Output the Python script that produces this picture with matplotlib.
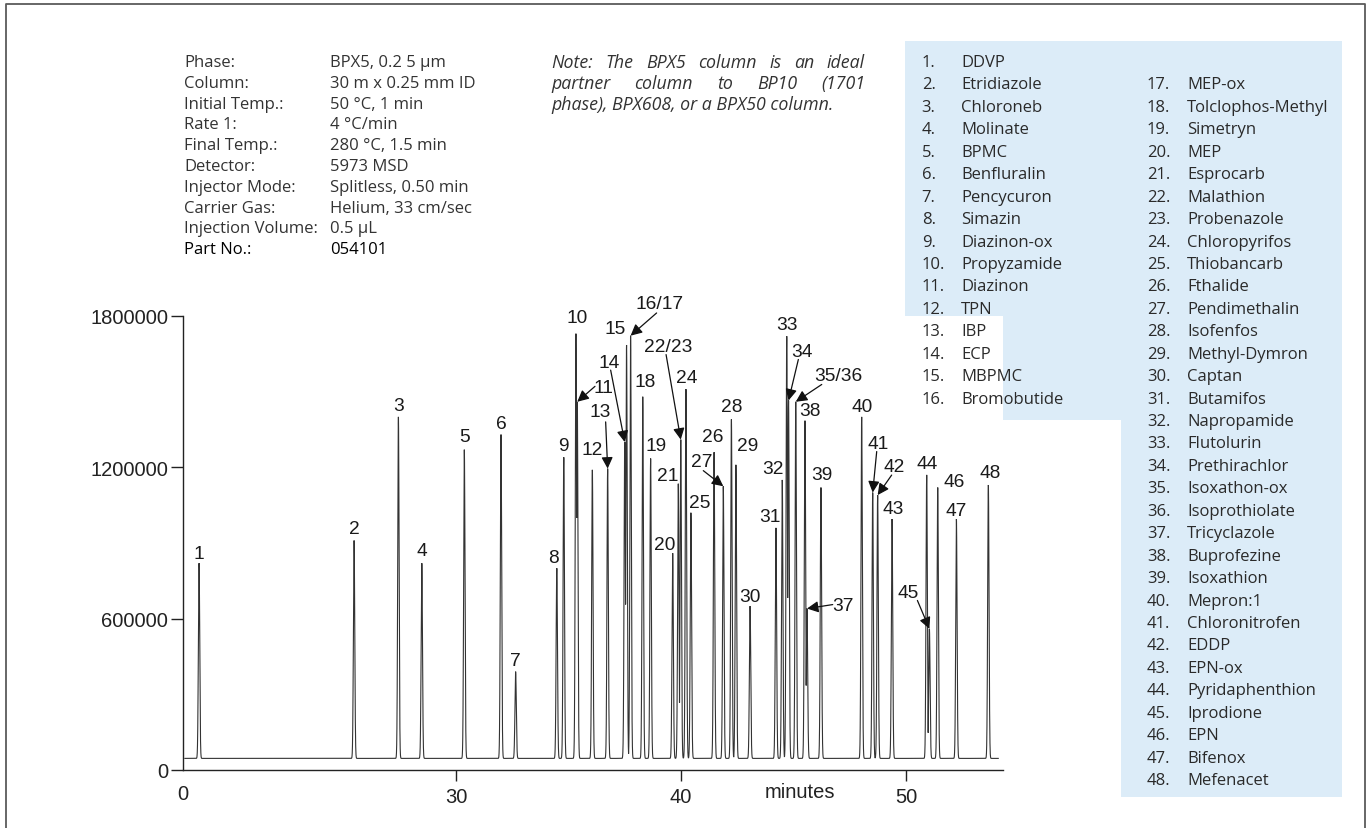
import numpy as np
import matplotlib
matplotlib.use("Agg")
import matplotlib.pyplot as plt
from matplotlib.lines import Line2D
from matplotlib.patches import Polygon

# ---------------------------------------------------------------- data
peak_labels = ["1", "2", "3", "4", "5", "6", "7", "8", "9", "10", "11", "12",
               "13", "14", "15", "16/17", "18", "19", "20", "21", "22/23",
               "24", "25", "26", "27", "28", "29", "30", "31", "32", "33",
               "34", "35/36", "37", "38", "39", "40", "41", "42", "43", "44",
               "45", "46", "47", "48"]
peak_times = [18.58, 25.47, 27.44, 28.48, 30.37, 32.00, 32.65, 34.48, 34.79,
              35.33, 35.39, 36.06, 36.74, 37.50, 37.58, 37.76, 38.30, 38.65,
              39.63, 39.88, 39.99, 40.22, 40.44, 41.47, 41.88, 42.24, 42.44,
              43.07, 44.22, 44.50, 44.70, 44.78, 45.10, 45.60, 45.51, 46.22,
              48.03, 48.52, 48.74, 49.38, 50.92, 51.04, 51.41, 52.24, 53.66]
peak_heights = [820000, 910000, 1400000, 820000, 1270000, 1330000, 390000,
                800000, 1240000, 1730000, 1460000, 1190000, 1195000, 1300000,
                1685000, 1722000, 1480000, 1235000, 860000, 1135000, 1310000,
                1510000, 1020000, 1260000, 1125000, 1390000, 1210000, 650000,
                960000, 1150000, 1720000, 1465000, 1460000, 640000, 1385000,
                1120000, 1400000, 1100000, 1090000, 995000, 1170000, 560000,
                1120000, 995000, 1130000]
baseline_level = 46000

x_tick_values = [30, 40, 50]
x_tick_labels = ["30", "40", "50"]
y_tick_values = [0, 600000, 1200000, 1800000]

compound_names = ["DDVP", "Etridiazole", "Chloroneb", "Molinate", "BPMC",
                  "Benfluralin", "Pencycuron", "Simazin", "Diazinon-ox",
                  "Propyzamide", "Diazinon", "TPN", "IBP", "ECP", "MBPMC",
                  "Bromobutide", "MEP-ox", "Tolclophos-Methyl", "Simetryn",
                  "MEP", "Esprocarb", "Malathion", "Probenazole",
                  "Chloropyrifos", "Thiobancarb", "Fthalide", "Pendimethalin",
                  "Isofenfos", "Methyl-Dymron", "Captan", "Butamifos",
                  "Napropamide", "Flutolurin", "Prethirachlor", "Isoxathon-ox",
                  "Isoprothiolate", "Tricyclazole", "Buprofezine", "Isoxathion",
                  "Mepron:1", "Chloronitrofen", "EDDP", "EPN-ox",
                  "Pyridaphenthion", "Iprodione", "EPN", "Bifenox", "Mefenacet"]

info_keys = ["Phase:", "Column:", "Initial Temp.:", "Rate 1:", "Final Temp.:",
             "Detector:", "Injector Mode:", "Carrier Gas:", "Injection Volume:",
             "Part No.:"]
info_values = ["BPX5, 0.2 5 µm", "30 m x 0.25 mm ID", "50 °C, 1 min",
               "4 °C/min", "280 °C, 1.5 min", "5973 MSD",
               "Splitless, 0.50 min", "Helium, 33 cm/sec", "0.5 µL", "054101"]

note_lines = ["Note: The BPX5 column is an ideal",
              "partner column to BP10 (1701",
              "phase), BPX608, or a BPX50 column."]

# ---------------------------------------------------------------- layout
W, H = 1367, 829
fig = plt.figure(figsize=(W / 100, H / 100), dpi=100)


def fx(x):
    return x / W


def fy(y):
    return 1 - y / H


# outer frame (open at the bottom)
fig.add_artist(Line2D([fx(5.7), fx(5.7), fx(1365), fx(1365)],
                      [fy(829), fy(5), fy(5), fy(829)],
                      transform=fig.transFigure, color="#5a5a5a", lw=1.3))

# ---------------------------------------------------------------- chromatogram
ax = fig.add_axes([fx(183), fy(771), fx(1003) - fx(183), fy(317) - fy(771)])
x_left = 30 + (183 - 456) / 22.5
x_right = 30 + (1003 - 456) / 22.5

t = np.arange(17.95, 54.10, 0.002)
signal = np.full_like(t, baseline_level, dtype=float)
sigma = 0.03
for tc, h in zip(peak_times, peak_heights):
    g = baseline_level + (h - baseline_level) * np.exp(-0.5 * ((t - tc) / sigma) ** 2)
    signal = np.maximum(signal, g)

ax.plot(t, signal, color="#333333", lw=0.8, solid_joinstyle="miter")

ax.set_xlim(x_left, x_right)
ax.set_ylim(0, 1800000)
for side in ("top", "right"):
    ax.spines[side].set_visible(False)
for side in ("left", "bottom"):
    ax.spines[side].set_linewidth(1.0)
    ax.spines[side].set_color("#222222")

tick_font = dict(family=["Liberation Sans", "DejaVu Sans"], size=14.5)
ax.set_xticks(x_tick_values)
ax.set_xticklabels(x_tick_labels, **tick_font)
ax.set_xticks([x_left], minor=True)
ax.set_xticklabels(["0"], minor=True, **tick_font)
ax.set_yticks(y_tick_values)
ax.set_yticklabels([f"{v:d}" for v in y_tick_values], **tick_font)
ax.tick_params(axis="x", which="major", direction="out", length=8, width=1.0,
               pad=4, colors="#222222")
ax.tick_params(axis="x", which="minor", length=0, pad=9.8, colors="#222222")
ax.tick_params(axis="y", direction="out", length=8.6, width=1.0, pad=2,
               colors="#222222")

ax.annotate("minutes", xy=(45.29, 0), xycoords=("data", "axes fraction"),
            xytext=(0, -21.5), textcoords="offset pixels", ha="center",
            va="center", color="#222222", **tick_font)

label_font = dict(family=["Liberation Sans", "DejaVu Sans"], size=13.8,
                  color="#1a1a1a")

# label offsets (pixels, from each peak apex): plain labels
plain_offsets = {
    "1": (0, 10), "2": (0, 11.7), "3": (0, 11.3), "4": (0, 12.3),
    "5": (0, 12.7), "6": (0, 11), "7": (0, 11.6), "8": (-3, 10.7),
    "9": (0, 11.6), "10": (1.7, 15.7), "12": (0, 20.3), "15": (-11.5, 16.7),
    "18": (2.3, 15), "19": (5.3, 12.6), "20": (-7.7, 9), "21": (-11, 8.3),
    "24": (0.7, 11.7), "25": (9, 10.6), "26": (-1.3, 15.4), "28": (0, 13.3),
    "29": (11.3, 19), "30": (0, 9.4), "31": (-6, 11), "32": (-9, 11.7),
    "33": (0, 11.7), "38": (5, 10.3), "39": (0.7, 13), "40": (0.6, 10.6),
    "43": (0.7, 10.7), "44": (0, 11), "46": (16.6, 6.3), "47": (0, 9),
    "48": (1.7, 12),
}
# arrow labels: (arrow tail offset, text offset) from the apex
arrow_offsets = {
    "11": ((17.7, 15.4), (26, 14.4)),
    "13": ((-2, 46.7), (-7, 56.7)),
    "14": ((-14.1, 72), (-15.5, 79.7)),
    "16/17": ((26, 22.7), (28.6, 32)),
    "22/23": ((-14.7, 85), (-13, 93.3)),
    "27": ((-20, 15.6), (-21.8, 24.8)),
    "34": ((9.8, 41), (13.2, 49.3)),
    "35/36": ((26, 17.3), (42.6, 26.6)),
    "37": ((25.7, 4), (36.3, 3)),
    "41": ((4, 41), (5, 48.7)),
    "42": ((14, 20), (16.6, 28.4)),
    "45": ((-12, 28.3), (-21, 36.7)),
}

for lab, tc, h in zip(peak_labels, peak_times, peak_heights):
    if lab in arrow_offsets:
        tail, txt = arrow_offsets[lab]
        ax.annotate("", xy=(tc, h), xytext=tail, textcoords="offset pixels",
                    arrowprops=dict(arrowstyle="-|>", color="#111111", lw=0.9,
                                    mutation_scale=17, shrinkA=0, shrinkB=0))
        ax.annotate(lab, xy=(tc, h), xytext=txt, textcoords="offset pixels",
                    ha="center", va="center", **label_font)
    else:
        ax.annotate(lab, xy=(tc, h), xytext=plain_offsets[lab],
                    textcoords="offset pixels", ha="center", va="center",
                    **label_font)

# ---------------------------------------------------------------- method block
info_font = dict(family=["Open Sans", "DejaVu Sans"], size=12)
row0, row_step = 63, 20.8
for i, (k, v) in enumerate(zip(info_keys, info_values)):
    last = i == len(info_keys) - 1
    col = "#000000" if last else "#333333"
    fig.text(fx(184), fy(row0 + i * row_step), k, va="center", ha="left",
             color=col, **info_font)
    fig.text(fx(330), fy(row0 + i * row_step), v, va="center", ha="left",
             color=col, **info_font)

# justified italic note
note_font = dict(family=["Open Sans", "DejaVu Sans"], size=12.8, style="italic",
                 color="#333333")
renderer = fig.canvas.get_renderer()
nx0, nx1 = 551, 865
for i, line in enumerate(note_lines):
    y = fy(row0 + i * row_step)
    if i == len(note_lines) - 1:
        fig.text(fx(nx0), y, line, va="center", ha="left", **note_font)
        continue
    words = line.split()
    objs = [fig.text(0, y, w, va="center", ha="left", **note_font) for w in words]
    widths = [o.get_window_extent(renderer).width for o in objs]
    gap = (nx1 - nx0 - sum(widths)) / (len(words) - 1)
    xp = nx0
    for o, wd in zip(objs, widths):
        o.set_x(fx(xp))
        xp += wd + gap

# ---------------------------------------------------------------- compound key
box = [(905, 41.7), (1341.7, 41.7), (1341.7, 798.3), (1120.7, 798.3),
       (1120.7, 420.7), (905, 420.7)]
fig.add_artist(Polygon([(fx(a), fy(b)) for a, b in box], closed=True,
                       transform=fig.transFigure, facecolor="#dcecf8",
                       edgecolor="none", zorder=0))

key_font = dict(family=["Open Sans", "DejaVu Sans"], size=12, color="#2a2a2a")
key_row0, key_step = 63, 22.44
for n, name in enumerate(compound_names, start=1):
    if n <= 16:
        row, xn, xt = n - 1, 921.7, 961
    else:
        row, xn, xt = n - 16, 1147, 1187
    y = fy(key_row0 + row * key_step)
    fig.text(fx(xn), y, f"{n}.", va="center", ha="left", **key_font)
    fig.text(fx(xt), y, name, va="center", ha="left", **key_font)

fig.savefig("out.png", dpi=100, facecolor="white")
